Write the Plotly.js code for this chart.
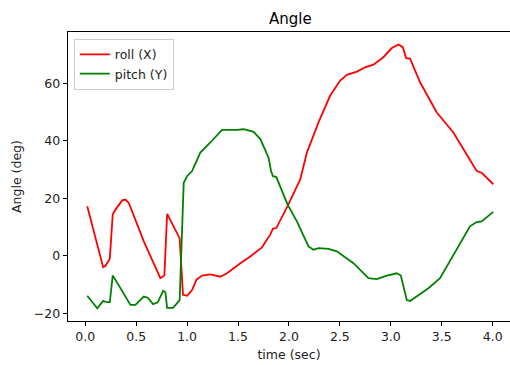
<!DOCTYPE html>
<html>
<head>
<meta charset="utf-8">
<script src="https://cdn.plot.ly/plotly-3.0.1.min.js"></script>
<style>html,body{margin:0;padding:0;background:#fff;}#chart{width:510px;height:365px;}</style>
</head>
<body>
<div id="chart"></div>
<script>
const rollTime = [0.02,0.176,0.199,0.241,0.27,0.297,0.363,0.395,0.428,0.575,0.738,0.777,0.804,0.927,0.96,1.0,1.049,1.091,1.147,1.228,1.326,1.392,1.523,1.62,1.735,1.816,1.843,1.876,1.986,2.111,2.176,2.29,2.405,2.503,2.569,2.667,2.748,2.829,2.927,3.01,3.075,3.118,3.15,3.189,3.287,3.451,3.614,3.745,3.843,3.892,4.006];
const rollValues = [17.3,-3.9,-3.4,-1.0,14.4,16.1,19.3,19.6,18.4,5.1,-7.7,-6.8,14.6,6.2,-13.5,-13.8,-11.8,-8.3,-6.8,-6.4,-7.2,-6.0,-2.5,-0.2,3.0,7.4,9.5,9.7,17.3,26.6,35.9,46.4,55.7,60.9,62.9,64.0,65.5,66.4,69.0,72.2,73.4,72.5,68.7,68.5,60.3,49.8,42.9,35.3,29.5,28.9,24.9];
const pitchTime = [0.02,0.118,0.176,0.199,0.241,0.27,0.297,0.444,0.493,0.575,0.614,0.667,0.712,0.765,0.787,0.804,0.863,0.927,0.967,1.0,1.049,1.13,1.228,1.343,1.49,1.555,1.653,1.719,1.8,1.824,1.843,1.876,1.986,2.078,2.192,2.241,2.29,2.388,2.47,2.569,2.633,2.78,2.863,2.961,3.059,3.098,3.157,3.189,3.369,3.483,3.614,3.777,3.843,3.892,4.006];
const pitchValues = [-13.8,-18.2,-15.6,-15.9,-16.1,-6.8,-8.3,-17.0,-17.0,-14.1,-14.5,-16.7,-16.1,-12.1,-12.6,-18.0,-18.0,-15.3,25.4,27.7,29.5,35.9,39.4,43.8,43.8,44.0,43.1,40.6,34.1,29.5,27.7,27.4,17.9,12.0,3.3,2.2,2.7,2.5,1.6,-0.8,-2.5,-7.7,-8.0,-6.8,-6.0,-6.8,-15.3,-15.6,-11.2,-7.7,0.4,10.3,11.8,12.0,15.3];
const seriesNames = ['roll (X)', 'pitch (Y)'];
const xTickVals = [0,0.5,1,1.5,2,2.5,3,3.5,4];
const xTickText = ['0.0','0.5','1.0','1.5','2.0','2.5','3.0','3.5','4.0'];
const yTickVals = [-20,0,20,40,60];

const font = {family: 'DejaVu Sans, sans-serif', size: 12.5, color: '#222'};
const traces = [
  {x: rollTime, y: rollValues, name: seriesNames[0], mode: 'lines', line: {color: '#ff0000', width: 1.8}},
  {x: pitchTime, y: pitchValues, name: seriesNames[1], mode: 'lines', line: {color: '#008000', width: 1.8}}
];
const layout = {
  width: 510, height: 365,
  margin: {l: 67.5, r: 0, t: 31.5, b: 44.3, pad: 0},
  paper_bgcolor: '#fff', plot_bgcolor: '#fff',
  font: font,
  showlegend: true,
  title: {text: 'Angle', font: {family: 'DejaVu Sans, sans-serif', size: 15, color: '#000'}, x: 0.503, xanchor: 'center', y: 1 - 19/365, yanchor: 'middle', xref: 'paper'},
  xaxis: {
    range: [-0.169, 4.17], tickvals: xTickVals, ticktext: xTickText,
    showgrid: false, zeroline: false, showline: true, linecolor: '#000', linewidth: 1, mirror: true,
    ticks: 'outside', ticklen: 4.4, tickwidth: 1, tickcolor: '#000',
    tickfont: font,
    title: {text: 'time (sec)', font: font, standoff: 6}
  },
  yaxis: {
    range: [-22.57, 77.76], tickvals: yTickVals,
    showgrid: false, zeroline: false, showline: true, linecolor: '#000', linewidth: 1, mirror: false,
    ticks: 'outside', ticklen: 4.4, tickwidth: 1, tickcolor: '#000',
    tickfont: font,
    title: {text: 'Angle (deg)', font: font, standoff: 9}
  },
  legend: {
    x: 0.0131, y: 0.9765, xanchor: 'left', yanchor: 'top',
    bgcolor: 'rgba(255,255,255,0.8)', bordercolor: '#cccccc', borderwidth: 1,
    font: font, tracegroupgap: 0, itemwidth: 30
  }
};
Plotly.newPlot('chart', traces, layout, {staticPlot: true, displayModeBar: false});
</script>
</body>
</html>
